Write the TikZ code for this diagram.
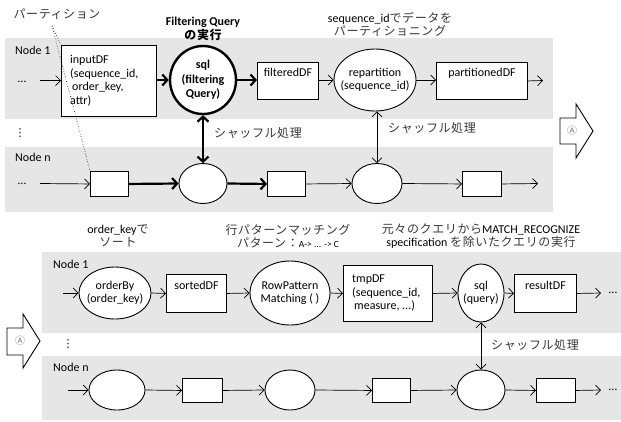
\documentclass[tikz,border=0pt]{standalone}
\usepackage{fontspec}
\setmainfont{Carlito}
\newfontfamily\jpfont{Noto Sans CJK JP}[LetterSpace=5]
\newfontfamily\symfont{DejaVu Sans}
\usetikzlibrary{arrows.meta,shapes.geometric}
\definecolor{bandgray}{RGB}{230,230,230}
\definecolor{jpgray}{RGB}{55,55,55}
\newcommand\jp[1]{{\jpfont\color{jpgray}#1}}
\begin{document}
\begin{tikzpicture}[x=1bp,y=-1bp,
  every node/.style={inner sep=0pt, font=\fontsize{12bp}{13.5bp}\selectfont},
  band/.style={fill=bandgray, draw=none},
  dfbox/.style={draw, line width=0.9bp, fill=white, anchor=north west},
  dfell/.style={draw, ellipse, line width=0.9bp, fill=white},
  boldell/.style={draw, ellipse, line width=2.4bp, fill=white},
  arr/.style={-{Straight Barb[length=5bp,width=10bp]}, line width=0.7bp},
  barr/.style={-{Straight Barb[length=5bp,width=11bp]}, line width=2.2bp},
  dbl/.style={{Straight Barb[length=5bp,width=10bp]}-{Straight Barb[length=5bp,width=10bp]}, line width=0.7bp},
  bdbl/.style={{Straight Barb[length=5bp,width=11bp]}-{Straight Barb[length=5bp,width=11bp]}, line width=2.2bp},
  blockarr/.style={draw, line width=0.9bp, fill=white, line join=miter},
  circA/.style={font=\fontsize{10bp}{10bp}\jpfont, text=gray},
  vdot/.style={font=\fontsize{11bp}{11bp}\symfont},
]
\useasboundingbox (0,0) rectangle (621,421);

% ---------- bands ----------
\fill[band] (5,38) rectangle (553,119);
\fill[band] (5,147) rectangle (553,212);
\fill[band] (42,252) rectangle (621,333);
\fill[band] (42,356) rectangle (621,420);

% ---------- top part, Node 1 ----------
\node[anchor=west] (n1a) at (15,50) {Node 1};
\node (dt1) at (22,82) {…};
\node[dfbox, minimum width=95bp, minimum height=71bp] (input) at (61,45) {};
\node[align=left, anchor=west] (inputT) at (70,80.5) {inputDF\\(sequence\_id,\\\hspace*{2bp}order\_key,\\attr)};
\node[boldell, minimum width=66bp, minimum height=68bp] (sql) at (203,80) {};
\node[align=center, font=\fontsize{12bp}{14.5bp}\selectfont\bfseries] (sqlT) at (sql) {sql\\(filtering\\Query)};
\node[dfbox, minimum width=61bp, minimum height=37bp] (filt) at (257,62) {};
\node[anchor=north] (filtT) at ([yshift=-6bp]filt.north) {filteredDF};
\node[dfell, minimum width=82bp, minimum height=62bp] (rep) at (375,80) {};
\node[align=center] (repT) at (rep) {repartition\\(sequence\_id)};
\node[dfbox, minimum width=91bp, minimum height=37bp] (part) at (436,62) {};
\node[anchor=north] (partT) at ([yshift=-6bp]part.north) {partitionedDF};

\coordinate (in1) at (40,80.5);
\coordinate (out1) at (543,80.5);
\draw[arr] (in1) -- (in1 -| input.west);
\draw[barr] (input.east |- sql) -- (sql.west);
\draw[barr] (sql.east) -- (sql.east -| filt.west);
\draw[arr] (filt.east |- rep) -- (rep.west);
\draw[arr] (rep.east) -- (rep.east -| part.west);
\draw[arr] (part.east) -- (out1);

% ---------- top part, Node n ----------
\node[vdot] (vd1) at (20,133) {⋮};
\node[anchor=west] (nna) at (15,157) {Node n};
\node (dt2) at (22,183.5) {…};
\node[dfbox, minimum width=38bp, minimum height=25bp] (boxA) at (90,171) {};
\node[dfell, minimum width=48bp, minimum height=40bp] (ellA) at (203,183.5) {};
\node[dfbox, minimum width=38bp, minimum height=25bp] (boxB) at (267,171) {};
\node[dfell, minimum width=50bp, minimum height=40bp] (ellB) at (377,183.5) {};
\node[dfbox, minimum width=39bp, minimum height=25bp] (boxC) at (462,171) {};

\coordinate (inN) at (40,183.5);
\coordinate (outN) at (538,183.5);
\draw[arr] (inN) -- (boxA.west);
\draw[barr] (boxA.east) -- (ellA.west);
\draw[barr] (ellA.east) -- (boxB.west);
\draw[arr] (boxB.east) -- (ellB.west);
\draw[arr] (ellB.east) -- (boxC.west);
\draw[arr] (boxC.east) -- (outN);

% shuffles
\draw[bdbl] (sql.south) -- (ellA.north);
\draw[dbl] (ellB.north |- rep.south) -- (ellB.north);
\node[anchor=west] (sh1) at (214,133) {\jp{シャッフル処理}};
\node[anchor=west] (sh2) at (388,128) {\jp{シャッフル処理}};

% labels top
\node (partlbl) at (57,14) {\jp{パーティション}};
\coordinate (pt) at (52,26);
\draw[dotted, line width=0.6bp] (pt) -- (input.north west);
\draw[dotted, line width=0.6bp] (pt) -- (boxA.north west);
\node[align=center] (fq) at (203,29) {{\bfseries Filtering Query}\\{\jpfont\bfseries の実行}};
\node[align=center] (seqlbl) at (390,24.5) {sequence\_id\jp{でデータを}\\\jp{パーティショニング}};

% block arrow right
\draw[blockarr] (560,118) -- (576,118) -- (576,104) -- (593,131) -- (576,158) -- (576,144) -- (560,144) -- cycle;
\node[circA] (A1) at (572,131) {Ⓐ};

% ---------- bottom part ----------
\draw[blockarr] (7,328) -- (23,328) -- (23,314) -- (40,341) -- (23,368) -- (23,355) -- (7,355) -- cycle;
\node[circA] (A2) at (20,341) {Ⓐ};

\node[anchor=west] (n1b) at (53,264) {Node 1};
\node[vdot] (vd2) at (68,344) {⋮};
\node[anchor=west] (nnb) at (53,367) {Node n};

\node[align=center] (oklbl) at (118,236) {order\_key\jp{で}\\\jp{ソート}};
\node[align=center] (rplbl) at (288,236) {\jp{行パターンマッチング}\\\jp{パターン：}{\fontsize{9.5bp}{9.5bp}\selectfont A-> ... -> C}};
\node[align=center] (mrlbl) at (481,236) {\jp{元々のクエリから}MATCH\_RECOGNIZE\\specification \jp{を除いたクエリの実行}};

\node[dfell, minimum width=72bp, minimum height=52bp] (ob) at (115,293) {};
\node[align=center] (obT) at (ob) {orderBy\\(order\_key)};
\node[dfbox, minimum width=60bp, minimum height=38bp] (sorted) at (166,274) {};
\node[anchor=north] (sortedT) at ([yshift=-7bp]sorted.north) {sortedDF};
\node[dfell, minimum width=80bp, minimum height=64bp] (rp) at (290,293) {};
\node[align=center] (rpT) at (rp) {RowPattern\\Matching ( )};
\node[dfbox, minimum width=89bp, minimum height=56bp] (tmp) at (343,265) {};
\node[align=left, anchor=west] (tmpT) at (352,293) {tmpDF\\(sequence\_id,\\\hspace*{2bp}measure, ...)};
\node[dfell, minimum width=46bp, minimum height=58bp] (sqlq) at (481,293) {};
\node[align=center] (sqlqT) at (sqlq) {sql\\(query)};
\node[dfbox, minimum width=62bp, minimum height=38bp] (res) at (514,274) {};
\node[anchor=north] (resT) at ([yshift=-7bp]res.north) {resultDF};
\node (dt3) at (613,293) {…};

\coordinate (in2) at (63,293);
\coordinate (out2) at (601,293);
\draw[arr] (in2) -- (ob.west);
\draw[arr] (ob.east) -- (sorted.west);
\draw[arr] (sorted.east) -- (rp.west);
\draw[arr] (rp.east) -- (tmp.west);
\draw[arr] (tmp.east) -- (sqlq.west);
\draw[arr] (sqlq.east) -- (res.west);
\draw[arr] (res.east) -- (out2);

\node[dfell, minimum width=56bp, minimum height=40bp] (e1) at (117,390) {};
\node[dfbox, minimum width=40bp, minimum height=24bp] (b1) at (182,378) {};
\node[dfell, minimum width=50bp, minimum height=40bp] (e2) at (290,390) {};
\node[dfbox, minimum width=38bp, minimum height=24bp] (b2) at (372,378) {};
\node[dfell, minimum width=48bp, minimum height=40bp] (e3) at (481,390) {};
\node[dfbox, minimum width=39bp, minimum height=24bp] (b3) at (536,378) {};
\node (dt4) at (613,390) {…};

\coordinate (in3) at (68,390);
\coordinate (out3) at (601,390);
\draw[arr] (in3) -- (e1.west);
\draw[arr] (e1.east) -- (b1.west);
\draw[arr] (b1.east) -- (e2.west);
\draw[arr] (e2.east) -- (b2.west);
\draw[arr] (b2.east) -- (e3.west);
\draw[arr] (e3.east) -- (b3.west);
\draw[arr] (b3.east) -- (out3);

\draw[dbl] (sqlq.south) -- (e3.north);
\node[anchor=west] (sh3) at (491,345) {\jp{シャッフル処理}};
\end{tikzpicture}
\end{document}
